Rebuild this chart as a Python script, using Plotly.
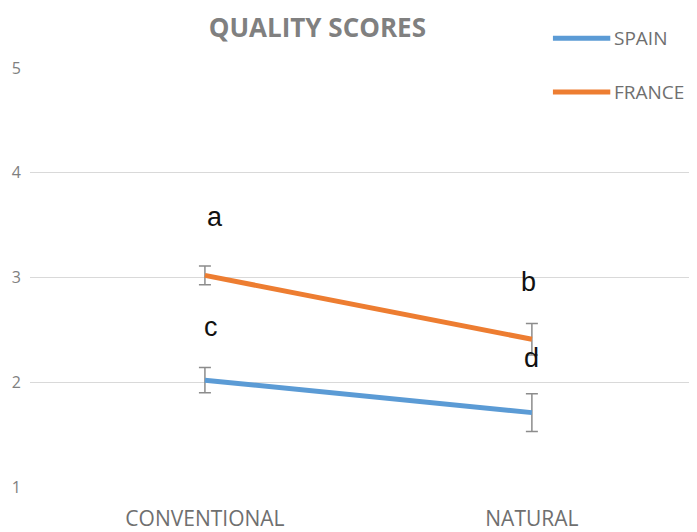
import plotly.graph_objects as go

categories = ["CONVENTIONAL", "NATURAL"]
spain = [2.02, 1.71]
spain_err = [0.12, 0.18]
france = [3.02, 2.41]
france_err = [0.09, 0.15]
letters = ["a", "b", "c", "d"]
letter_x = [0.03, 0.99, 0.02, 1.0]
letter_y = [3.58, 2.96, 2.53, 2.23]
yticks = [1, 2, 3, 4, 5]
series_names = ["SPAIN", "FRANCE"]
series_colors = ["#5B9BD5", "#ED7D31"]

fig = go.Figure()
for name, vals, errs, col in zip(series_names, [spain, france], [spain_err, france_err], series_colors):
    fig.add_trace(go.Scatter(
        x=[0, 1], y=vals, name=name, mode="lines", showlegend=False,
        line=dict(color=col, width=5),
        error_y=dict(type="data", array=errs, color="#8c8c8c", thickness=1.5, width=6),
    ))
for t, lx, ly in zip(letters, letter_x, letter_y):
    fig.add_annotation(x=lx, y=ly, text=t, showarrow=False,
                       font=dict(family="Liberation Sans", size=27, color="#111111"))

# legend drawn in paper coordinates
legend_y = [1.071, 0.943]
for name, col, ly in zip(series_names, series_colors, legend_y):
    fig.add_shape(type="line", xref="paper", yref="paper", x0=0.784, x1=0.870, y0=ly, y1=ly,
                  line=dict(color=col, width=5))
    fig.add_annotation(xref="paper", yref="paper", x=0.872, y=ly, text=name, showarrow=False,
                       xanchor="left", yanchor="middle",
                       font=dict(family="Open Sans", size=19, color="#6f6f6f"))

fig.update_layout(
    width=689, height=524,
    paper_bgcolor="white", plot_bgcolor="white",
    margin=dict(l=22, r=0, t=60, b=43),
    font=dict(family="Open Sans", color="#7f7f7f"),
    title=dict(text="<b>QUALITY SCORES</b>", x=0.449, xanchor="center", y=0.962, yanchor="middle",
               font=dict(family="Open Sans", size=26, color="#808080")),
    showlegend=False,
)
fig.update_xaxes(tickvals=[0, 1], ticktext=categories, range=[-0.535, 1.505],
                 showgrid=False, zeroline=False, showline=False, ticks="",
                 ticklabelstandoff=17, tickfont=dict(size=21, color="#6f6f6f"))
fig.update_yaxes(range=[1, 5], tickvals=yticks, showgrid=True, gridcolor="#d9d9d9",
                 gridwidth=1, zeroline=False, showline=False, ticks="",
                 ticklabelstandoff=8, tickfont=dict(size=16, color="#7f7f7f"))

fig.write_html("out.html")
